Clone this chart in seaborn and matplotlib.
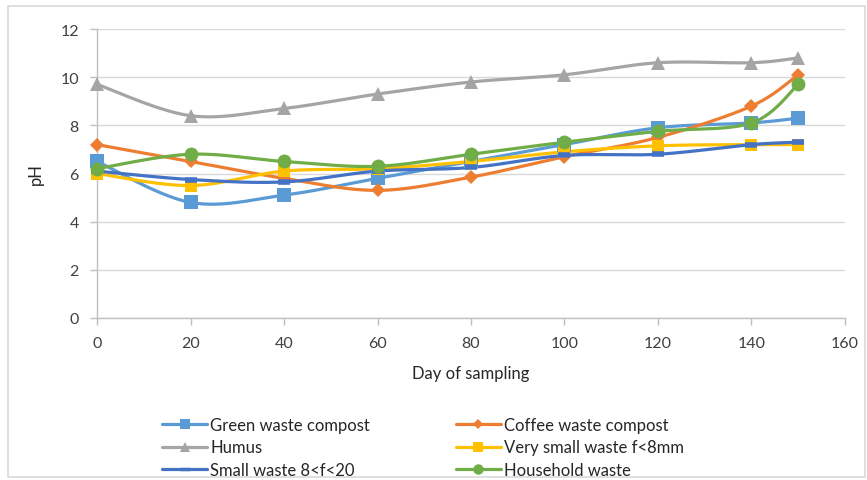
import numpy as np
import pandas as pd
import matplotlib
matplotlib.use("Agg")
import matplotlib.pyplot as plt
from matplotlib.lines import Line2D
from matplotlib.patches import Rectangle
import seaborn as sns

days = [0, 20, 40, 60, 80, 100, 120, 140, 150]
green_waste = [6.5, 4.8, 5.1, 5.8, 6.5, 7.2, 7.9, 8.1, 8.3]
coffee_waste = [7.2, 6.5, 5.8, 5.3, 5.85, 6.7, 7.5, 8.8, 10.1]
humus = [9.7, 8.4, 8.7, 9.3, 9.8, 10.1, 10.6, 10.6, 10.8]
very_small = [6.0, 5.5, 6.1, 6.2, 6.5, 6.9, 7.15, 7.2, 7.2]
small_waste = [6.1, 5.75, 5.65, 6.1, 6.25, 6.75, 6.8, 7.2, 7.3]
household = [6.2, 6.8, 6.5, 6.3, 6.8, 7.3, 7.75, 8.1, 9.7]

names = ["Green waste compost", "Coffee waste compost", "Humus",
         "Very small waste f<8mm", "Small waste 8<f<20", "Household waste"]
series = [green_waste, coffee_waste, humus, very_small, small_waste, household]
colors = ["#5B9BD5", "#ED7D31", "#A5A5A5", "#FFC000", "#4472C4", "#70AD47"]
markers = ["s", "D", "^", "s", "_", "o"]
msizes = [10, 7, 10, 9, 8, 10]

sns.set_theme(style="white")
plt.rcParams['font.family'] = ['Lato', 'DejaVu Sans']


def smooth(x, y, n=30):
    # Excel-like smoothed line: cubic Bezier segments with Catmull-Rom control points
    P = np.column_stack([x, y]).astype(float)
    pts = []
    m = len(P)
    for i in range(m - 1):
        p0 = P[i - 1] if i > 0 else P[i]
        p1 = P[i]
        p2 = P[i + 1]
        p3 = P[i + 2] if i + 2 < m else P[i + 1]
        c1 = p1 + (p2 - p0) / 6.0
        c2 = p2 - (p3 - p1) / 6.0
        t = np.linspace(0, 1, n)[:, None]
        seg = ((1 - t) ** 3) * p1 + 3 * ((1 - t) ** 2) * t * c1 + 3 * (1 - t) * t ** 2 * c2 + t ** 3 * p2
        if i > 0:
            seg = seg[1:]
        pts.append(seg)
    pts = np.vstack(pts)
    return pts[:, 0], pts[:, 1]


fig = plt.figure(figsize=(8.67, 4.81), dpi=100)
ax = fig.add_axes([0.1119, 0.3368, 0.8627, 0.6008])

handles = []
for name, vals, c, mk, ms in zip(names, series, colors, markers, msizes):
    sx, sy = smooth(days, vals)
    df = pd.DataFrame({"x": sx, "y": sy})
    sns.lineplot(data=df, x="x", y="y", ax=ax, color=c, lw=2.3, sort=False,
                 estimator=None, zorder=2)
    if mk == "_":
        ax.plot(days, vals, linestyle="none", marker=mk, color=c, markersize=ms,
                markeredgewidth=4, clip_on=False, zorder=3)
    else:
        ax.plot(days, vals, linestyle="none", marker=mk, color=c, markersize=ms,
                markeredgewidth=0, clip_on=False, zorder=3)
    h = Line2D([], [], color=c, lw=2.3, marker=mk,
               markersize=(ms * 0.75 if mk != "_" else 7),
               markeredgewidth=(0 if mk != "_" else 2.5))
    handles.append(h)

ax.set_xlim(0, 160)
ax.set_ylim(0, 12)
ax.set_xticks(range(0, 161, 20))
ax.set_yticks(range(0, 13, 2))
ax.grid(axis="y", color="#D9D9D9", lw=1)
ax.grid(axis="x", visible=False)
for s in ["top", "right"]:
    ax.spines[s].set_visible(False)
for s in ["left", "bottom"]:
    ax.spines[s].set_color("#BFBFBF")
    ax.spines[s].set_linewidth(1)
ax.tick_params(axis="both", which="both", direction="out", length=5, width=1,
               color="#BFBFBF", labelsize=11.5, labelcolor="#404040", left=True, bottom=True)
ax.tick_params(axis="y", pad=8)
ax.tick_params(axis="x", pad=8)
ax.set_xlabel("Day of sampling", fontsize=12, color="#262626", labelpad=11)
ax.set_ylabel("pH", fontsize=12, color="#262626", labelpad=12)

col1 = [0, 2, 4]
col2 = [1, 3, 5]
for idx, xpos in [(col1, 162 / 867), (col2, 456 / 867)]:
    leg = fig.legend([handles[i] for i in idx], [names[i] for i in idx],
                     loc="upper left", bbox_to_anchor=(xpos, 1 - 418 / 481),
                     frameon=False, fontsize=12, handlelength=2.7,
                     handletextpad=0.2, labelspacing=0.38, borderpad=0,
                     borderaxespad=0)
    for t in leg.get_texts():
        t.set_color("#262626")

fig.patches.append(Rectangle((8 / 867, 3 / 481), 857 / 867, 471 / 481,
                             transform=fig.transFigure, fill=False,
                             edgecolor="#D9D9D9", lw=1.2))

fig.savefig("out.png", dpi=100, facecolor="white")
